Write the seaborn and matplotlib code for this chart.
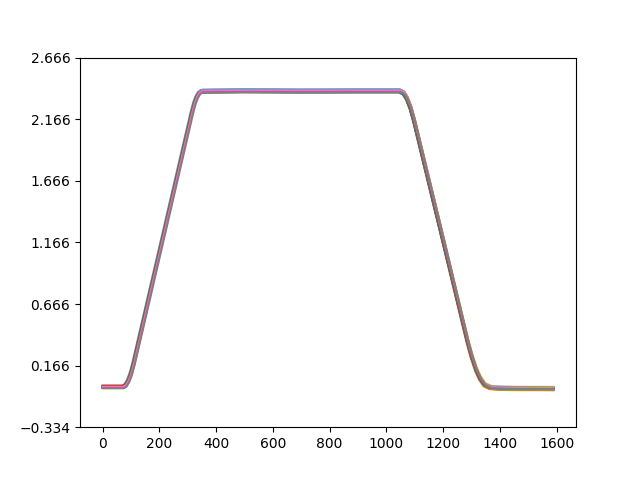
import matplotlib
matplotlib.use("Agg")
import matplotlib.pyplot as plt
import seaborn as sns
import pandas as pd

# Shared profile knots
x_knots = [0, 30, 70, 80, 90, 100, 110, 200, 315, 324, 332, 340, 349, 500, 700,
           900, 1047, 1060, 1072, 1085, 1097, 1200, 1286, 1300, 1316, 1330, 1346,
           1366, 1400, 1450, 1589]
y_base = [-0.010, -0.010, -0.010, 0.002, 0.040, 0.101, 0.188, 1.080, 2.220, 2.297,
          2.346, 2.377, 2.392, 2.395, 2.393, 2.394, 2.394, 2.379, 2.336, 2.258,
          2.160, 1.184, 0.367, 0.249, 0.138, 0.067, 0.014, -0.008, -0.014, -0.016,
          -0.017]

# Per-run small deviations (18 runs)
off_start = [0.002, -0.004, 0.000, 0.013, -0.003, 0.001, 0.004, 0.008, -0.003,
             0.001, 0.002, -0.002, 0.003, 0.012, -0.002, 0.000, 0.004, -0.008]
off_top = [0.012, -0.009, 0.002, 0.006, 0.011, -0.003, 0.012, 0.008, 0.009,
           0.011, -0.011, 0.003, -0.002, 0.001, 0.007, 0.000, 0.006, -0.008]
off_end = [-0.010, -0.017, 0.003, 0.000, -0.003, 0.002, -0.005, 0.008, 0.010,
           -0.014, -0.009, -0.012, 0.001, -0.002, 0.003, -0.006, 0.002, -0.008]
shift_x = [2, -3, 1, -1, 3, -2, 1, -4, 3, -1, -2, 1, -1, 2, 0, -2, 2, 4]

y_ticks = [-0.334, 0.166, 0.666, 1.166, 1.666, 2.166, 2.666]

colors = plt.rcParams['axes.prop_cycle'].by_key()['color']

fig, ax = plt.subplots(figsize=(6.4, 4.8), dpi=100)

for i in range(len(shift_x)):
    xs, ys = [], []
    n = len(x_knots)
    for j, (xk, yk) in enumerate(zip(x_knots, y_base)):
        xv = xk if j in (0, n - 1) else xk + shift_x[i]
        if xk < 150:
            off = off_start[i]
        elif xk <= 1250:
            off = off_top[i]
        else:
            off = off_end[i]
        xs.append(xv)
        ys.append(yk + off)
    df = pd.DataFrame({"x": xs, "y": ys})
    sns.lineplot(data=df, x="x", y="y", ax=ax, color=colors[i % len(colors)],
                 linewidth=1.5, estimator=None, sort=False)

ax.set_ylim(-0.334, 2.666)
ax.set_yticks(y_ticks)
ax.set_xlabel("")
ax.set_ylabel("")

fig.savefig("out.png", dpi=100)
